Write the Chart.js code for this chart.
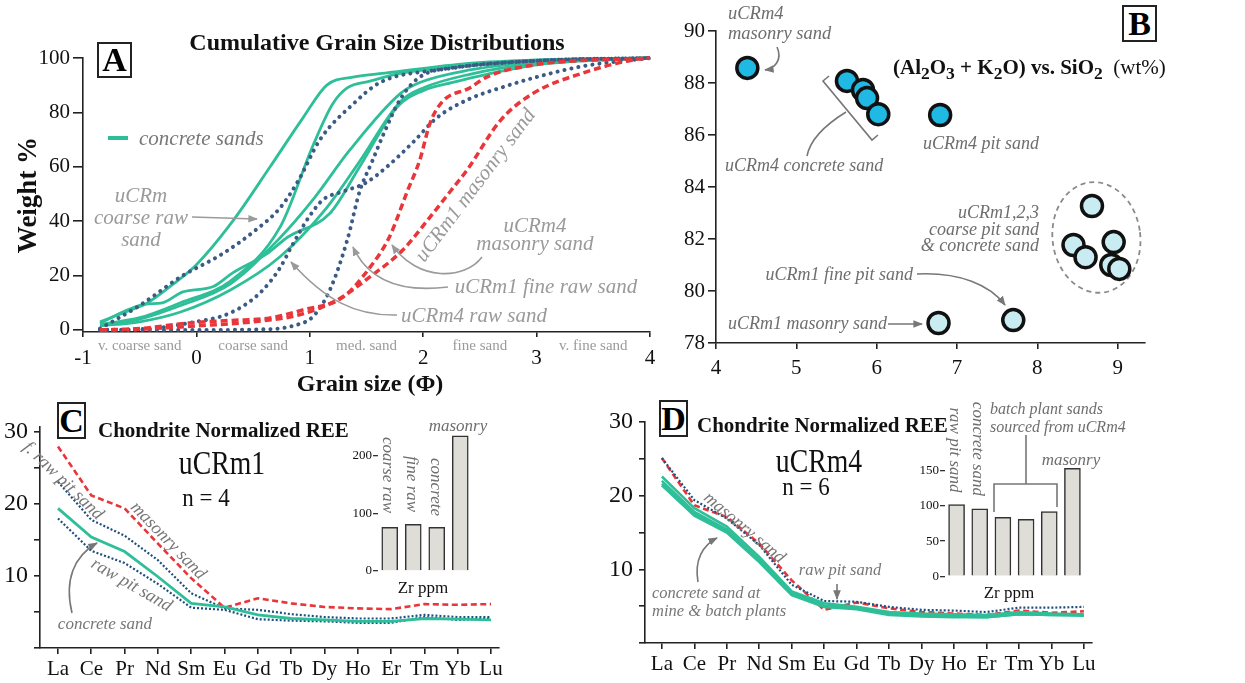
<!DOCTYPE html>
<html>
<head>
<meta charset="utf-8">
<script src="https://cdn.jsdelivr.net/npm/chart.js@4.4.0/dist/chart.umd.min.js"></script>
<style>
body { margin:0; background:#fff; width:1245px; height:683px; overflow:hidden; position:relative;
       font-family:"Liberation Serif","Times New Roman",serif; }
canvas { position:absolute; }
.t { position:absolute; white-space:nowrap; line-height:1; }
.box { position:absolute; border:2px solid #222; font-weight:bold; display:flex; align-items:center;
       justify-content:center; box-sizing:border-box; background:#fff; }
svg { position:absolute; left:0; top:0; z-index:3; }
</style>
</head>
<body>
<canvas id="cA"></canvas>
<canvas id="cB"></canvas>
<canvas id="cC"></canvas>
<canvas id="cD"></canvas>
<canvas id="cCz"></canvas>
<canvas id="cDz"></canvas>

<svg width="1245" height="683">
  <defs>
    <marker id="ha" viewBox="0 0 10 10" refX="9" refY="5" markerWidth="6" markerHeight="6" orient="auto"><path d="M0,1 L10,5 L0,9 z" fill="#9a9a9a"/></marker>
    <marker id="hb" viewBox="0 0 10 10" refX="9" refY="5" markerWidth="6" markerHeight="6" orient="auto"><path d="M0,1 L10,5 L0,9 z" fill="#777"/></marker>
  </defs>
  <line x1="108" y1="138" x2="128" y2="138" stroke="#2fbf98" stroke-width="4"/>
  <g fill="none" stroke="#9a9a9a" stroke-width="1.6">
    <path d="M192,217 L257,219" marker-end="url(#ha)"/>
    <path d="M482,257 C465,280 418,282 392,245" marker-end="url(#ha)"/>
    <path d="M448,287 C400,293 368,280 353,247" marker-end="url(#ha)"/>
    <path d="M397,315 C355,316 325,300 291,262" marker-end="url(#ha)"/>
  </g>
  <g fill="none" stroke="#777" stroke-width="1.6">
    <path d="M777,47 C783,60 774,69 765,70" marker-end="url(#hb)"/>
    <path d="M829,76 L823,81 L872,140 L878,135"/>
    <path d="M846,112 C825,125 810,140 807,156"/>
    <path d="M917,274 C960,272 990,285 1005,305" marker-end="url(#hb)"/>
    <path d="M888,324 L922,324" marker-end="url(#hb)"/>
    <path d="M72,613 C64,580 74,556 97,543" marker-end="url(#hb)"/>
    <path d="M698,582 C694,560 703,545 717,538" marker-end="url(#hb)"/>
    <path d="M837,584 L837,599" marker-end="url(#hb)"/>
    <path d="M1026,435 L1026,484 M994,512 L994,484 L1057,484 L1057,507"/>
  </g>
</svg>

<script>
// ---- panel A: cumulative grain size, [phi, weight %]
const phiClasses = ['v. coarse sand', 'coarse sand', 'med. sand', 'fine sand', 'v. fine sand'];
const concrete1 = [[-0.85,3],[-0.6,7],[-0.45,9.5],[-0.2,17],[0,24],[0.32,40],[0.65,60],[0.94,78],[1.15,90],[1.38,93],[1.68,94.5],[2.4,98],[3,99.3],[4,100]];
const concrete2 = [[-0.85,2],[-0.5,4.5],[-0.14,10],[0.3,18],[0.74,38],[1.03,68],[1.2,83],[1.33,89],[1.53,91.5],[1.82,94.5],[2.5,97.5],[4,100]];
const concrete3 = [[-0.85,1.5],[-0.5,3],[-0.14,6.6],[0.3,14.7],[0.74,27],[1.15,45],[1.44,62],[1.8,84],[2.0,89],[2.41,94],[3,98],[4,100]];
const concrete4 = [[-0.85,1.5],[-0.5,4],[-0.14,9],[0.3,17],[0.74,34],[1.03,48],[1.35,66],[1.8,87],[1.97,91],[2.41,95.6],[3,98.5],[4,100]];
const concrete5 = [[-0.85,2.5],[-0.6,7.5],[-0.45,9.5],[-0.3,10],[-0.12,14],[0.15,16],[0.32,21],[0.62,28],[0.8,34],[1.18,43],[1.44,60],[1.77,82],[2.0,88],[2.26,91],[2.56,94],[3,97.5],[4,100]];
const coarseRawM = [[-0.85,0.5],[-0.5,9],[-0.14,19.5],[0.23,28],[0.5,36],[0.74,45],[0.9,55],[1.09,70],[1.38,83],[1.62,91],[2.12,95.6],[3,99],[4,100]];
const rawM4 = [[-0.85,0],[-0.4,0.5],[-0.06,2.6],[0.3,6.3],[0.56,13.6],[0.74,23],[0.83,30],[1.0,42],[1.12,48],[1.3,51],[1.49,54],[1.68,60],[1.91,69],[2.12,78],[2.41,85],[2.68,89],[3.0,93],[3.41,97],[4,100]];
const fineRawM1 = [[-0.85,0],[0,0],[0.65,0.3],[0.85,1.5],[1.03,5],[1.18,15],[1.33,33],[1.44,51],[1.55,62],[1.65,72],[1.8,85],[1.97,93],[2.3,96.5],[3,99],[4,100]];
const masonryM1 = [[-0.85,0],[-0.5,0.5],[-0.06,2.6],[0.3,3.5],[0.65,4.4],[0.94,7.4],[1.29,12],[1.53,23],[1.7,34],[1.86,51],[1.97,62.5],[2.06,76],[2.17,84],[2.41,89],[2.56,93],[2.97,97.4],[4,100]];
const masonryM4 = [[-0.85,0],[-0.5,0.3],[0,1.5],[0.5,3],[0.9,5.5],[1.24,11],[1.53,19.5],[1.82,29.4],[2.06,41.5],[2.24,51],[2.39,59],[2.68,77],[2.97,87],[3.41,94.5],[3.85,99.3],[4,100]];

// ---- panel B: (Al2O3 + K2O) on x, SiO2 on y
const m4AlK = [4.39, 5.63, 5.83, 5.88, 6.02, 6.79];
const m4Si  = [88.58, 88.08, 87.73, 87.42, 86.8, 86.77];
const m123AlK = [6.77, 7.70, 8.68, 8.45, 8.60, 8.95, 8.92, 9.02];
const m123Si  = [78.77, 78.88, 83.27, 81.77, 81.3, 81.88, 81.0, 80.85];

// ---- panels C, D: chondrite normalized REE
const ree = ['La','Ce','Pr','Nd','Sm','Eu','Gd','Tb','Dy','Ho','Er','Tm','Yb','Lu'];
const m1Masonry  = [28.0,21.2,19.4,14.5,9.7,5.6,6.9,6.2,5.7,5.5,5.4,6.1,6.0,6.1];
const m1FineRaw  = [23.1,17.8,15.6,12.2,7.6,5.5,5.3,4.7,4.3,4.1,4.1,4.6,4.3,4.3];
const m1RawPit   = [18.0,13.5,11.8,8.9,5.6,5.3,4.0,3.8,3.7,3.5,3.5,4.3,3.9,4.1];
const m1Concrete = [19.4,15.4,13.4,9.9,6.2,5.7,4.6,4.1,3.9,3.7,3.7,4.1,4.0,3.9];
const m4Masonry  = [25.1,18.7,17.1,13.5,8.5,4.5,5.5,4.7,4.2,4.0,3.8,4.4,4.1,4.3];
const m4RawPit   = [25.1,19.4,16.9,13.3,7.9,5.7,5.6,4.9,4.5,4.4,4.2,4.8,4.8,4.9];
const m4Concrete1 = [22.6,18.3,15.8,11.7,7.0,5.4,4.9,4.2,4.0,3.9,3.8,4.2,4.0,3.9];
const m4Concrete2 = [22.0,17.8,15.4,11.3,6.8,5.1,4.8,4.0,3.8,3.7,3.6,4.0,3.9,3.8];
const m4Concrete3 = [21.6,17.5,15.2,11.1,6.6,5.0,4.7,3.9,3.7,3.6,3.5,3.9,3.8,3.8];
const m4Concrete4 = [21.4,17.3,15.0,11.0,6.5,4.9,4.6,3.8,3.6,3.5,3.5,3.9,3.8,3.7];

// ---- Zr insets
const zrM1Names = ['coarse raw', 'fine raw', 'concrete', 'masonry'];
const zrM1 = [76, 81, 76, 235];
const zrM4Names = ['raw pit sand', 'concrete sand', 'batch 1', 'batch 2', 'batch 3', 'masonry'];
const zrM4 = [102, 96, 84, 81, 92, 154];

const serif = '"Liberation Serif", "Times New Roman", serif';
const GREEN = '#2fbf98', BLUE = '#3b5b85', NAVY = '#1f4f7f', RED = '#e8363a';

Chart.defaults.font.family = serif;
Chart.defaults.color = '#111';

function ax(min, max, step, size, tl, pad, cb) {
    return {
        type: 'linear', min: min, max: max,
        border: { display: true, color: '#222', width: 1.6 },
        grid: { drawOnChartArea: false, tickLength: tl, color: '#222', lineWidth: 1.6 },
        ticks: { stepSize: step, includeBounds: false, maxTicksLimit: 100, autoSkip: false, maxRotation: 0,
                 padding: pad, color: '#111', font: { size: size, family: serif }, callback: cb || (v => v) }
    };
}

// box = canvas [left, top, w, h]; area = chart area [L, T, R, B] in page pixels
function makeChart(id, box, area, cfg) {
    const c = document.getElementById(id);
    c.width = box[2]; c.height = box[3];
    c.style.left = box[0] + 'px'; c.style.top = box[1] + 'px';
    const xH = box[1] + box[3] - area[3];
    const yW = area[0] - box[0];
    cfg.options = Object.assign({
        responsive: false, animation: false, devicePixelRatio: 1, events: [],
        layout: { padding: { left: 0, bottom: 0, top: area[1] - box[1], right: box[0] + box[2] - area[2] } },
        plugins: { legend: { display: false }, tooltip: { enabled: false } }
    }, cfg.options);
    cfg.options.scales.x.afterFit = s => { s.height = xH; };
    cfg.options.scales.y.afterFit = s => { s.width = yW; };
    return new Chart(c, cfg);
}

function line(pts, color, kind, w) {
    return {
        data: pts, borderColor: color, borderWidth: w, pointRadius: 0, fill: false, clip: false,
        borderDash: kind === 'dot' ? [0.1, 7] : kind === 'dash' ? [7, 4] : kind === 'fine' ? [2, 2] : kind === 'dash2' ? [6, 3.5] : [],
        borderCapStyle: kind === 'dot' ? 'round' : 'butt',
        cubicInterpolationMode: 'monotone'
    };
}
const xy = pts => pts.map(p => ({ x: p[0], y: p[1] }));
const byIndex = vals => vals.map((v, i) => ({ x: i, y: v }));

// ---- A
const classLabels = {
    id: 'classLabels',
    afterDraw(chart) {
        const ctx = chart.ctx, x = chart.scales.x;
        ctx.save();
        ctx.font = '15px ' + serif; ctx.fillStyle = '#9a9a9a';
        ctx.textAlign = 'center'; ctx.textBaseline = 'middle';
        phiClasses.forEach((name, i) => ctx.fillText(name, x.getPixelForValue(i - 0.5), chart.chartArea.bottom + 14));
        ctx.restore();
    }
};
makeChart('cA', [0, 35, 665, 340], [83, 58, 650, 332], {
    type: 'line',
    data: { datasets: [
        line(xy(masonryM4), RED, 'dash', 3.5),
        line(xy(masonryM1), RED, 'dash', 3.5),
        line(xy(rawM4), BLUE, 'dot', 4),
        line(xy(fineRawM1), BLUE, 'dot', 4),
        line(xy(coarseRawM), BLUE, 'dot', 4),
        line(xy(concrete5), GREEN, 'solid', 2.8),
        line(xy(concrete4), GREEN, 'solid', 2.8),
        line(xy(concrete3), GREEN, 'solid', 2.8),
        line(xy(concrete2), GREEN, 'solid', 2.8),
        line(xy(concrete1), GREEN, 'solid', 2.8)
    ] },
    options: { scales: { x: ax(-1, 4, 1, 21, 5, 9), y: ax(-0.75, 100, 20, 21, 10, 3) } },
    plugins: [classLabels]
});

// ---- B
const clusterRing = {
    id: 'clusterRing',
    beforeDatasetsDraw(chart) {
        const x = chart.scales.x, y = chart.scales.y, ctx = chart.ctx;
        const px = m123AlK.slice(2).map(v => x.getPixelForValue(v));
        const py = m123Si.slice(2).map(v => y.getPixelForValue(v));
        const cx = (Math.min(...px) + Math.max(...px)) / 2, cy = (Math.min(...py) + Math.max(...py)) / 2;
        const rx = (Math.max(...px) - Math.min(...px)) / 2 + 21, ry = (Math.max(...py) - Math.min(...py)) / 2 + 24;
        ctx.save();
        ctx.strokeStyle = '#8a8a8a'; ctx.lineWidth = 1.8; ctx.setLineDash([5, 4]);
        ctx.beginPath(); ctx.ellipse(cx, cy, rx, ry, -0.12, 0, Math.PI * 2); ctx.stroke();
        ctx.restore();
    }
};
const pts = (xs, ys) => xs.map((v, i) => ({ x: v, y: ys[i] }));
makeChart('cB', [680, 4, 480, 376], [716, 31, 1145, 343], {
    type: 'scatter',
    data: { datasets: [
        { data: pts(m123AlK, m123Si), backgroundColor: '#c9ecf2', borderColor: '#111', borderWidth: 3.5, pointRadius: 10.5, clip: false },
        { data: pts(m4AlK, m4Si), backgroundColor: '#1fb9e4', borderColor: '#111', borderWidth: 3.5, pointRadius: 10.5, clip: false }
    ] },
    options: { scales: { x: ax(4, 9.34, 1, 21, 6, 7), y: ax(78, 90, 2, 21, 8, 3) } },
    plugins: [clusterRing]
});

// ---- C & D
const reeTick = v => (v > 0 && v % 10 === 0) ? v : '';
const reeName = v => ree[v] !== undefined ? ree[v] : '';
const rl = (vals, color, kind, w) => Object.assign(line(byIndex(vals), color, kind, w), { cubicInterpolationMode: 'default', tension: 0 });

makeChart('cC', [0, 398, 520, 285], [40, 427, 499, 648], {
    type: 'line',
    data: { datasets: [
        rl(m1Concrete, GREEN, 'solid', 2.8),
        rl(m1RawPit, NAVY, 'fine', 2.2),
        rl(m1FineRaw, NAVY, 'fine', 2.2),
        rl(m1Masonry, RED, 'dash2', 2.6)
    ] },
    options: { scales: { x: ax(-0.54, 13.24, 1, 21, 6, 3, reeName), y: ax(0, 30.7, 5, 24, 6, 6, reeTick) } }
});

makeChart('cD', [600, 393, 500, 290], [645, 422, 1092, 643], {
    type: 'line',
    data: { datasets: [
        rl(m4Concrete4, GREEN, 'solid', 2.6),
        rl(m4Concrete3, GREEN, 'solid', 2.6),
        rl(m4Concrete2, GREEN, 'solid', 2.6),
        rl(m4Concrete1, GREEN, 'solid', 2.6),
        rl(m4RawPit, NAVY, 'fine', 2.2),
        rl(m4Masonry, RED, 'dash2', 2.6)
    ] },
    options: { scales: { x: ax(-0.52, 13.25, 1, 21, 6, 3, reeName), y: ax(0, 30, 5, 24, 6, 6, reeTick) } }
});

// ---- Zr insets
function zrBars(id, box, area, names, vals, max, step) {
    makeChart(id, box, area, {
        type: 'bar',
        data: { labels: names, datasets: [{ data: vals, backgroundColor: '#deddd8', borderColor: '#333', borderWidth: 1.5, barThickness: 16 }] },
        options: { scales: {
            x: { type: 'category', grid: { display: false }, border: { display: false }, ticks: { display: false } },
            y: { min: 0, max: max, border: { display: false },
                 grid: { drawOnChartArea: false, tickLength: 5, color: '#333', lineWidth: 1.3 },
                 ticks: { stepSize: step, includeBounds: false, padding: 1, color: '#111', font: { size: 13, family: serif } } }
        } }
    });
}
zrBars('cCz', [335, 415, 145, 165], [378, 433, 472, 571], zrM1Names, zrM1, 240, 100);
zrBars('cDz', [900, 445, 195, 140], [945, 464, 1084, 577], zrM4Names, zrM4, 160, 50);

// ---- text
const G1 = '#9a9a9a', G2 = '#6e6e6e', K = '#111';
const texts = [
    // x, y, text, size, style, colour, anchor, rotation, horizontal squeeze
    [377, 42, 'Cumulative Grain Size Distributions', 24, 'b', K, 'c', 0],
    [27, 195, 'Weight %', 27, 'b', K, 'c', -90],
    [370, 383, 'Grain size (&Phi;)', 24, 'b', K, 'c', 0],
    [139, 138, 'concrete sands', 21, 'i', '#777', 'l', 0],
    [141, 195, 'uCRm', 21, 'i', G1, 'c', 0],
    [141, 217, 'coarse raw', 21, 'i', G1, 'c', 0],
    [141, 239, 'sand', 21, 'i', G1, 'c', 0],
    [475, 185, 'uCRm1 masonry sand', 21, 'i', G1, 'c', -53],
    [535, 225, 'uCRm4', 21, 'i', G1, 'c', 0],
    [535, 243, 'masonry sand', 21, 'i', G1, 'c', 0],
    [546, 286, 'uCRm1 fine raw sand', 21, 'i', G1, 'c', 0],
    [474, 315, 'uCRm4 raw sand', 21, 'i', G1, 'c', 0],

    [893, 70, '(Al<sub>2</sub>O<sub>3</sub> + K<sub>2</sub>O) vs. SiO<sub>2</sub><span style="font-weight:normal">&nbsp; (wt%)</span>', 21, 'b', K, 'l', 0],
    [728, 13, 'uCRm4', 18.5, 'i', G2, 'l', 0],
    [728, 33, 'masonry sand', 18.5, 'i', G2, 'l', 0],
    [725, 165, 'uCRm4 concrete sand', 18, 'i', G2, 'l', 0],
    [923, 143, 'uCRm4 pit sand', 18, 'i', G2, 'l', 0],
    [1039, 212, 'uCRm1,2,3', 18, 'i', G2, 'r', 0],
    [1039, 229, 'coarse pit sand', 18, 'i', G2, 'r', 0],
    [1039, 245, '&amp; concrete sand', 18, 'i', G2, 'r', 0],
    [913, 274, 'uCRm1 fine pit sand', 18, 'i', G2, 'r', 0],
    [728, 323, 'uCRm1 masonry sand', 18, 'i', G2, 'l', 0],

    [98, 430, 'Chondrite Normalized REE', 21, 'b', K, 'l', 0],
    [222, 463, 'uCRm1', 33, '', K, 'c', 0, 0.84],
    [206, 497, 'n = 4', 25, '', K, 'c', 0, 0.92],
    [64, 480, 'f. raw pit sand', 18, 'i', '#777', 'c', 44],
    [169, 540, 'masonry sand', 18, 'i', '#777', 'c', 46],
    [132, 584, 'raw pit sand', 18, 'i', '#777', 'c', 30],
    [105, 623, 'concrete sand', 17, 'i', '#777', 'c', 0],
    [388, 475, 'coarse raw', 17, 'i', G2, 'c', 90],
    [412, 484, 'fine raw', 17, 'i', G2, 'c', 90],
    [436, 487, 'concrete', 17, 'i', G2, 'c', 90],
    [458, 425, 'masonry', 17, 'i', G2, 'c', 0],
    [423, 587, 'Zr ppm', 17, '', K, 'c', 0],

    [697, 425, 'Chondrite Normalized REE', 21, 'b', K, 'l', 0],
    [819, 461, 'uCRm4', 33, '', K, 'c', 0, 0.84],
    [806, 486, 'n = 6', 25, '', K, 'c', 0, 0.92],
    [745, 527, 'masonry sand', 18, 'i', '#777', 'c', 40],
    [840, 570, 'raw pit sand', 16.5, 'i', '#777', 'c', 0],
    [652, 593, 'concrete sand at', 16.5, 'i', '#777', 'l', 0],
    [652, 611, 'mine &amp; batch plants', 16.5, 'i', '#777', 'l', 0],
    [955, 450, 'raw pit sand', 17, 'i', G2, 'c', 90],
    [978, 449, 'concrete sand', 17, 'i', G2, 'c', 90],
    [990, 409, 'batch plant sands', 16, 'i', G2, 'l', 0],
    [990, 427, 'sourced from uCRm4', 16, 'i', G2, 'l', 0],
    [1071, 459, 'masonry', 17, 'i', G2, 'c', 0],
    [1009, 592, 'Zr ppm', 17, '', K, 'c', 0]
];
texts.forEach(t => {
    const d = document.createElement('div');
    d.className = 't';
    d.innerHTML = t[2];
    const tx = t[6] === 'l' ? '0' : t[6] === 'r' ? '-100%' : '-50%';
    const sq = t[8] ? ` scaleX(${t[8]})` : '';
    d.style.cssText = `left:${t[0]}px;top:${t[1]}px;font-size:${t[3]}px;color:${t[5]};` +
        `font-weight:${t[4] === 'b' ? 'bold' : 'normal'};font-style:${t[4] === 'i' ? 'italic' : 'normal'};` +
        `transform:translate(${tx},-50%) rotate(${t[7]}deg)${sq};z-index:4;`;
    document.body.appendChild(d);
});

// panel letters
[['A', 97, 42, 35, 36], ['B', 1122, 5, 35, 37], ['C', 57, 402, 29, 37], ['D', 659, 400, 29, 37]].forEach(b => {
    const d = document.createElement('div');
    d.className = 'box';
    d.textContent = b[0];
    d.style.cssText = `left:${b[1]}px;top:${b[2]}px;width:${b[3]}px;height:${b[4]}px;font-size:34px;z-index:4;`;
    document.body.appendChild(d);
});
</script>
</body>
</html>
